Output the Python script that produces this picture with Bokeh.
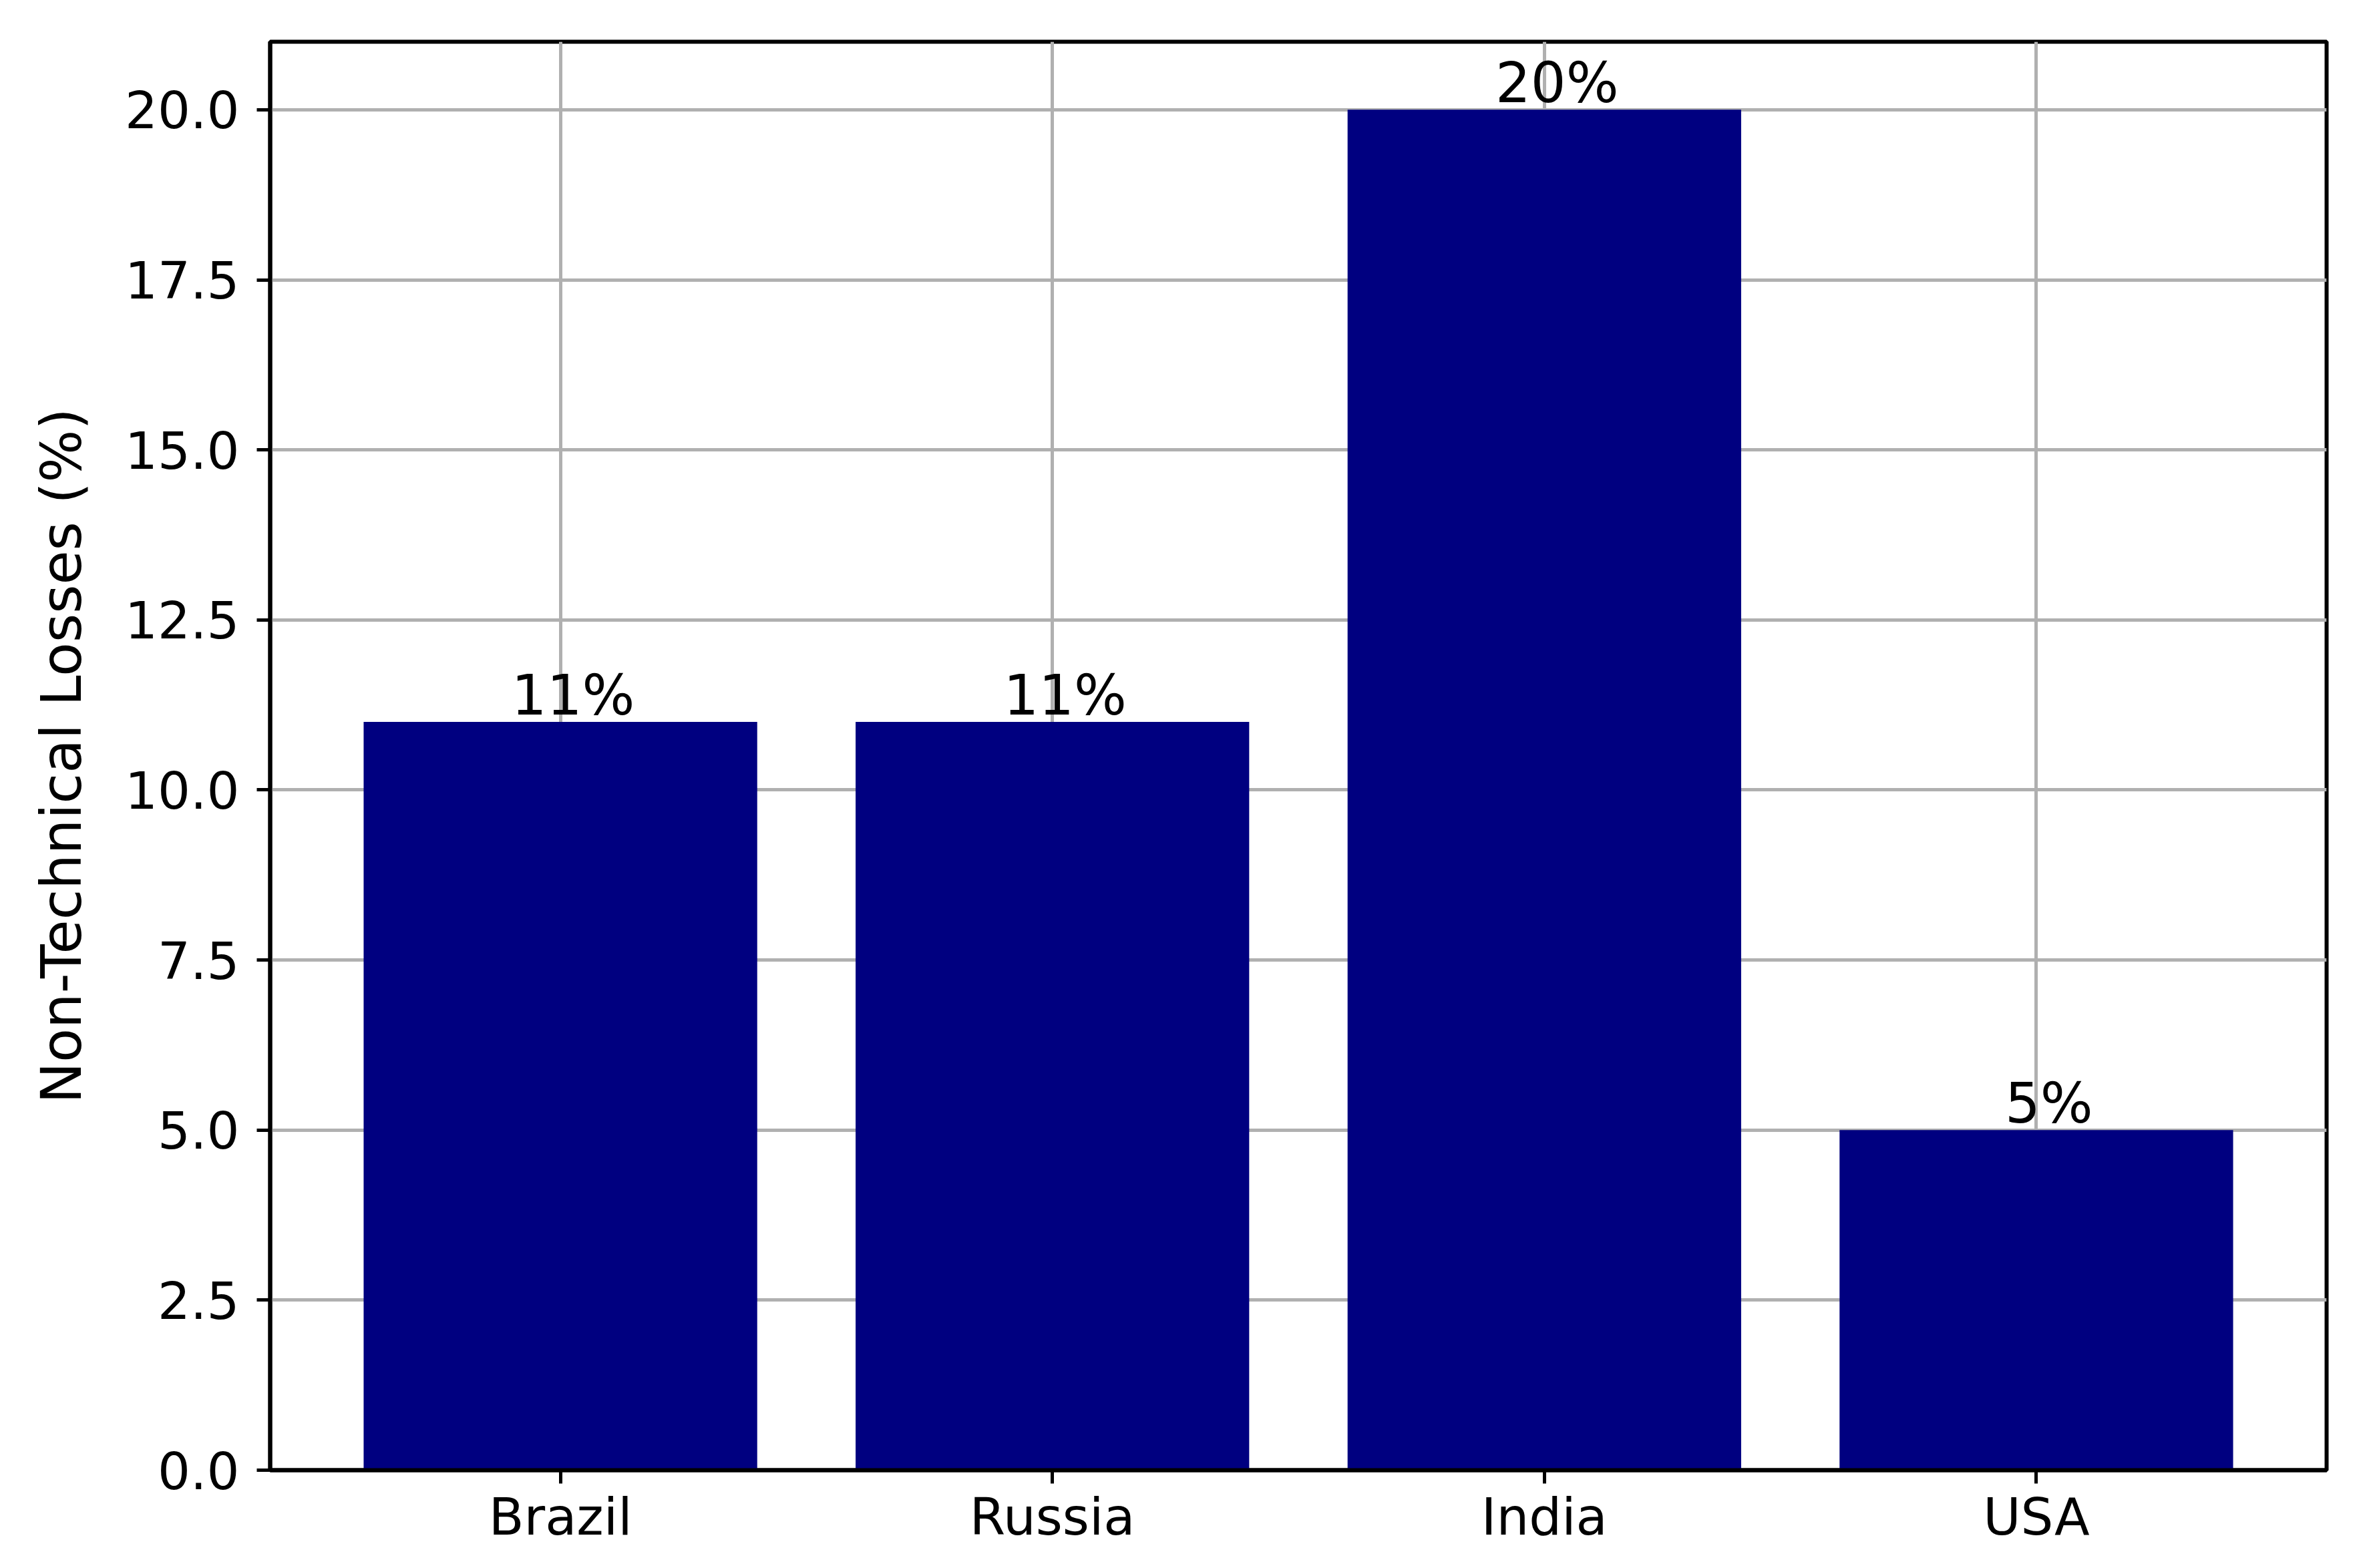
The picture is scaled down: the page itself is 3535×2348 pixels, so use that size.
import numpy as np
from bokeh.plotting import figure
from bokeh.models import Range1d, FixedTicker, PrintfTickFormatter, ColumnDataSource
from bokeh.core.properties import value
from bokeh.embed import file_html
from bokeh.resources import INLINE

categories = ["Brazil", "Russia", "India", "USA"]
losses = [11, 11, 20, 5]
y_ticks = [0.0, 2.5, 5.0, 7.5, 10.0, 12.5, 15.0, 17.5, 20.0]
y_label = "Non-Technical Losses (%)"

FONT = "DejaVu Sans"
x_pos = list(range(len(categories)))

src = ColumnDataSource(dict(
    x=x_pos,
    top=losses,
    label=[f"{v}%" for v in losses],
))

p = figure(width=3519, height=2332, output_backend="svg", toolbar_location=None,
           x_range=Range1d(-0.59, 3.59), y_range=Range1d(0, 21),
           min_border_left=404, min_border_right=36, min_border_top=62, min_border_bottom=131)

p.vbar(x="x", top="top", bottom=0, width=0.8, source=src,
       fill_color="#000080", line_color=None)

p.text(x="x", y="top", text="label", source=src,
       text_align="center", text_baseline="alphabetic",
       x_offset=19, y_offset=-40,
       text_font=value(FONT), text_font_size="83px", text_color="black")

# axes
p.xaxis.ticker = FixedTicker(ticks=x_pos)
p.xaxis.major_label_overrides = {i: c for i, c in enumerate(categories)}
p.yaxis.ticker = FixedTicker(ticks=y_ticks)
p.yaxis.formatter = PrintfTickFormatter(format="%.1f")
p.yaxis.axis_label = y_label

for ax in (p.xaxis, p.yaxis):
    ax.axis_line_color = "black"
    ax.axis_line_width = 6
    ax.major_tick_line_color = "black"
    ax.major_tick_line_width = 5
    ax.major_tick_out = 20
    ax.major_tick_in = 0
    ax.minor_tick_line_color = None
    ax.major_label_text_font = FONT
    ax.major_label_text_font_size = "77px"
    ax.major_label_text_color = "black"

p.xaxis.major_label_standoff = 5
p.yaxis.major_label_standoff = 26
p.yaxis.axis_label_text_font = FONT
p.yaxis.axis_label_text_font_size = "83px"
p.yaxis.axis_label_text_font_style = "normal"
p.yaxis.axis_label_text_color = "black"
p.yaxis.axis_label_standoff = 43

# grid
p.xgrid.ticker = FixedTicker(ticks=x_pos)
p.ygrid.ticker = FixedTicker(ticks=y_ticks)
for g in (p.xgrid, p.ygrid):
    g.grid_line_color = "#b0b0b0"
    g.grid_line_width = 5

p.outline_line_color = "black"
p.outline_line_width = 6
p.outline_line_alpha = 1.0
p.background_fill_color = "white"
p.border_fill_color = "white"

open("out.html", "w").write(file_html(p, INLINE))
